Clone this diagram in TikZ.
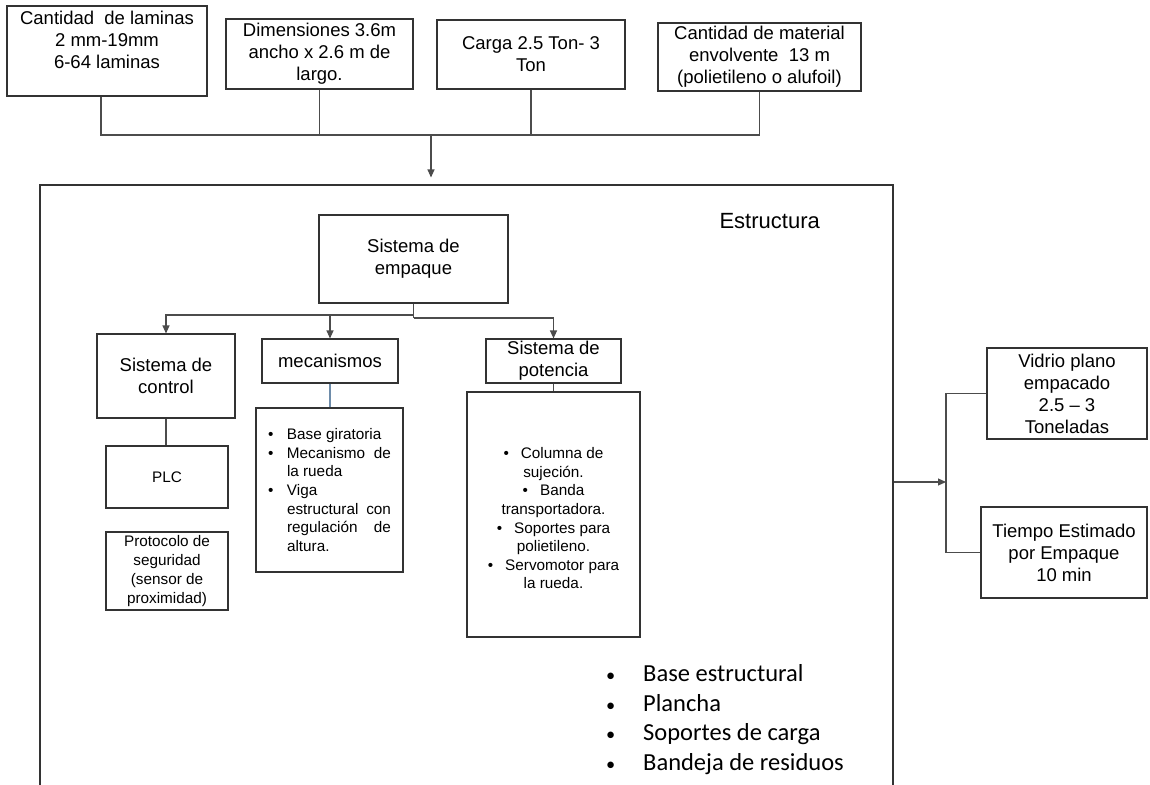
\documentclass[tikz,border=0pt]{standalone}
\usepackage{fontspec}
\usepackage{graphicx}
\setmainfont{Liberation Sans}
\newfontfamily\calib{Carlito}
\usetikzlibrary{arrows.meta}
\newcommand{\mbl}[1]{\hbox to 123pt{\makebox[19pt][l]{\textbullet}#1}}
\newcommand{\mcl}[1]{\hbox to 123pt{\hspace*{19pt}#1}}
\newcommand{\pbl}[1]{\textbullet\hspace{12pt}#1}
\newcommand{\lbl}{\makebox[39pt][l]{\hspace*{2pt}\scalebox{0.75}{\textbullet}}}
\begin{document}
\begin{tikzpicture}[x=1pt,y=-1pt,
  box/.style={draw=black!80, line width=1.1pt, inner sep=0pt, align=center,
              font=\fontsize{18.5}{22}\selectfont},
  sbox/.style={box, font=\fontsize{15.3}{19}\selectfont},
  conn/.style={draw=black!70, line width=1.1pt},
  arr/.style={conn, -{Triangle[length=8pt,width=7pt]}}]
\useasboundingbox (0,0) rectangle (1150,784);

% top inputs
\node[box, minimum width=200pt, minimum height=90pt] (b1) at (107,51)
  {Cantidad\ \ de laminas\\2 mm-19mm\\6-64 laminas\\~};
\node[box, minimum width=187pt, minimum height=70pt] (b2) at (319.5,54)
  {Dimensiones 3.6m\\ancho x 2.6 m de\\largo.};
\node[box, minimum width=188pt, minimum height=69pt] (b3) at (531,54.5)
  {Carga 2.5 Ton- 3\\Ton};
\node[box, minimum width=203pt, minimum height=68pt] (b4) at (759.5,57)
  {Cantidad de material\\envolvente\ \ 13 m\\(polietileno o alufoil)};

\coordinate (busL) at (101,135);
\coordinate (busA) at (431,135);
\draw[conn] (b1.south -| busL) -- (busL) -- (b4.south |- busL) -- (b4.south);
\draw[conn] (b2.south) -- (b2.south |- busL);
\draw[conn] (b3.south) -- (b3.south |- busL);

% big structure box
\node[draw=black!80, line width=1.1pt, inner sep=0pt, minimum width=853pt,
      minimum height=615pt] (est) at (466.5,492.5) {};
\draw[arr] (busA) -- ([yshift=7pt]est.north -| busA);
\node[inner sep=0pt, anchor=east, font=\fontsize{22}{26}\selectfont] (estl) at (820,221) {Estructura};

% tree
\node[box, minimum width=189pt, minimum height=88pt] (emp) at (413.5,259) {Sistema de\\empaque};
\node[box, minimum width=138pt, minimum height=84pt] (ctrl) at (166,376) {Sistema de\\control};
\node[box, minimum width=136pt, minimum height=44pt] (mec) at (330,361) {mecanismos};
\node[box, minimum width=135pt, minimum height=44pt] (pot) at (553.5,361) {Sistema de\\potencia};
\coordinate (tL) at (413.5,315);
\coordinate (tR) at (413.5,318);
\draw[conn] (emp.south) -- (tR);
\draw[arr] (tL) -| (ctrl.north);
\draw[arr] (mec.north |- tL) -- (mec.north);
\draw[arr] (tR) -| (pot.north);

\node[sbox, minimum width=122pt, minimum height=62pt] (plc) at (167,477) {PLC};
\node[sbox, minimum width=122pt, minimum height=78pt] (prot) at (167,571)
  {Protocolo de\\seguridad\\(sensor de\\proximidad)};
\draw[conn] (ctrl.south) -- (ctrl.south |- plc.north);

\node[sbox, align=left, minimum width=147pt, minimum height=164pt,
      font=\fontsize{15.3}{18.7}\selectfont] (mecl) at (329.5,490)
  {\mbl{Base giratoria\hfill}\\
   \mbl{Mecanismo\hfill de}\\
   \mcl{la rueda\hfill}\\
   \mbl{Viga\hfill}\\
   \mcl{estructural\hfill con}\\
   \mcl{regulación\hfill de}\\
   \mcl{altura.\hfill}};
\draw[draw={rgb,255:red,110;green,140;blue,170}, line width=1.1pt] (mec.south) -- (mecl.north -| mec.south);

\node[sbox, minimum width=173pt, minimum height=245pt,
      font=\fontsize{15.3}{18.6}\selectfont] (potl) at (553.5,514.5)
  {~\\\pbl{Columna de}\\sujeción.\\\pbl{Banda}\\transportadora.\\
   \pbl{Soportes para}\\polietileno.\\\pbl{Servomotor para}\\la rueda.};
\draw[conn] (pot.south) -- (pot.south |- potl.north);

% bottom list
\node[inner sep=0pt, anchor=west, align=left, font=\calib\fontsize{24.5}{29.7}\selectfont]
  (blist) at (604,719.5)
  {\lbl Base estructural\\
   \lbl Plancha\\
   \lbl Soportes de carga\\
   \lbl Bandeja de residuos};

% outputs
\node[box, minimum width=160pt, minimum height=91pt] (vid) at (1067,393.5)
  {Vidrio plano\\empacado\\2.5 -- 3\\Toneladas};
\node[box, minimum width=166pt, minimum height=91pt] (tie) at (1064,552.5)
  {Tiempo Estimado\\por Empaque\\10 min};
\coordinate (brk) at (946,482);
\draw[conn] (vid.west) -- (vid.west -| brk) -- (tie.west -| brk) -- (tie.west);
\draw[arr] (est.east |- brk) -- (brk);
\end{tikzpicture}
\end{document}
